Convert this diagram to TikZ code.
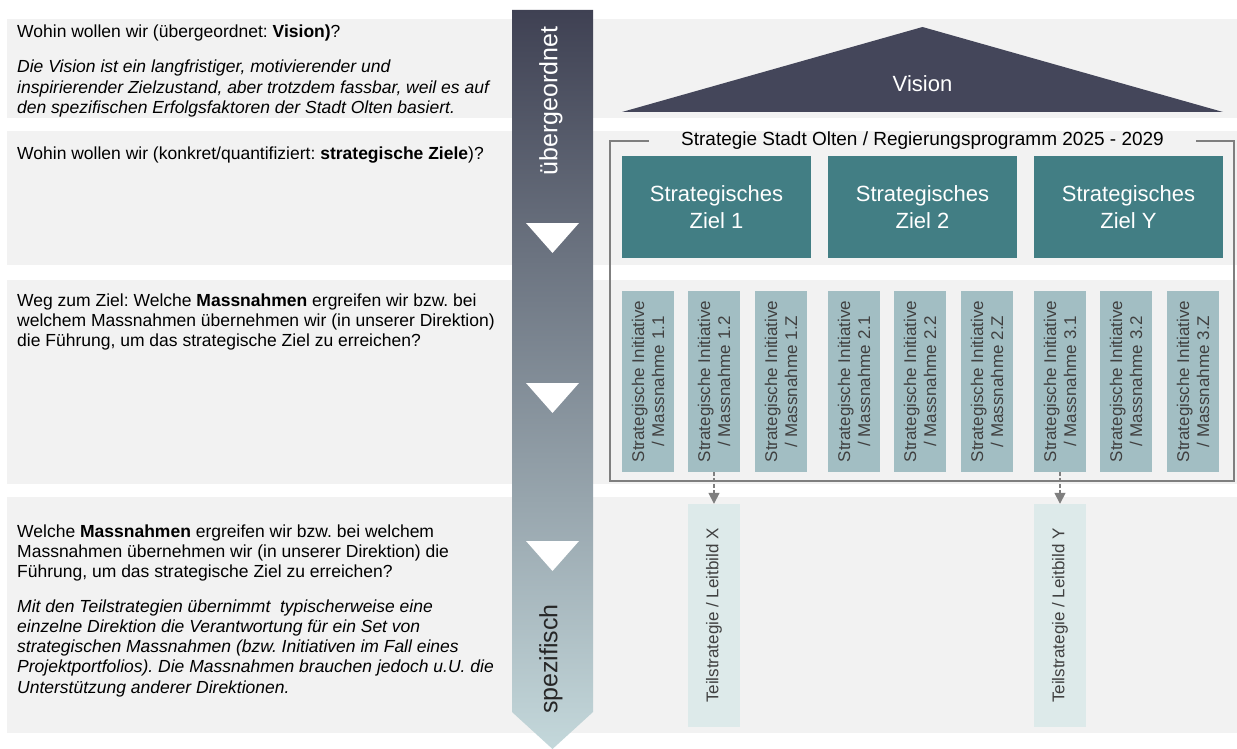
\documentclass[tikz,border=0pt]{standalone}
\usepackage{fontspec}
\setmainfont{Liberation Sans}
\usetikzlibrary{arrows.meta}

\definecolor{bandgray}{HTML}{F2F2F2}
\definecolor{visionblue}{HTML}{44465A}
\definecolor{zielteal}{HTML}{427E84}
\definecolor{initblue}{HTML}{A2BEC3}
\definecolor{teilblue}{HTML}{DDEAEA}
\definecolor{framegray}{HTML}{7F7F7F}
\definecolor{arrowtop}{HTML}{3F4153}
\definecolor{arrowbot}{HTML}{C4D8DB}
\definecolor{textgray}{HTML}{404040}
\frenchspacing

\begin{document}
\begin{tikzpicture}[x=1pt,y=-1pt,
  lefttext/.style={anchor=base west,inner sep=0pt,align=left,font=\fontsize{17.5}{20.3}\selectfont},
  leftnote/.style={lefttext,font=\fontsize{17.5}{20.3}\selectfont\itshape},
  zielbox/.style={fill=zielteal,text=white,align=center,minimum width=189pt,minimum height=102pt,inner sep=0pt,font=\fontsize{22}{26.5}\selectfont},
  initbox/.style={fill=initblue,text=textgray,align=center,rotate=90,minimum width=181pt,minimum height=52pt,inner sep=0pt,font=\fontsize{17}{20}\selectfont},
  teilbox/.style={fill=teilblue,text=textgray,rotate=90,minimum width=223pt,minimum height=52pt,inner sep=0pt,font=\fontsize{17}{20}\selectfont},
  frameline/.style={draw=framegray,line width=1.5pt},
  linkarrow/.style={draw=framegray,line width=1.5pt,dash pattern=on 4pt off 2pt,-{Triangle[length=11pt,width=11pt]}}]
\useasboundingbox (0,0) rectangle (1237,749);

% bands
\fill[bandgray] (7,19) rectangle (1237,118);
\fill[bandgray] (7,131) rectangle (1237,265);
\fill[bandgray] (7,280) rectangle (1237,484);
\fill[bandgray] (7,497) rectangle (1237,733);

% big arrow
\shade[top color=arrowtop,bottom color=arrowbot] (512,10) -- (593,10) -- (593,712) -- (552.5,749) -- (512,712) -- cycle;
\foreach \ty in {223,383,541}
  \fill[white] (526,\ty) -- (579,\ty) -- (552.5,\ty+30) -- cycle;
\node (oben) [rotate=90,text=white,font=\fontsize{25}{25}\selectfont] at (551,101) {übergeordnet};
\node (unten) [rotate=90,text=black!85,font=\fontsize{25}{25}\selectfont] at (551,659) {spezifisch};

% vision
\fill[visionblue] (622,112) -- (922.5,27) -- (1223,112) -- cycle;
\node (vision) [text=white,font=\fontsize{22}{22}\selectfont] at (922.5,84) {Vision};

% strategie
\node (titel) [inner xsep=32pt,font=\fontsize{19}{19}\selectfont] at (922.5,141) {Strategie Stadt Olten / Regierungsprogramm 2025 - 2029};
\draw[frameline] (titel.west) -| (610,481) -| (1234,141) -- (titel.east);

\node (z1) [zielbox] at (716.5,207) {Strategisches\\Ziel 1};
\node (z2) [zielbox] at (922.5,207) {Strategisches\\Ziel 2};
\node (zY) [zielbox] at (1128.5,207) {Strategisches\\Ziel Y};

\foreach \g/\gx in {1/622,2/828,3/1034}
  \foreach \k/\dx in {1/0,2/66,Z/133}
    \node (m\g\k) [initbox] at (\gx+\dx+26,381.5) {Strategische Initiative\\/ Massnahme \g.\k};

\node (tx) [teilbox] at (714,615.5) {Teilstrategie / Leitbild X};
\node (ty) [teilbox] at (1060,615.5) {Teilstrategie / Leitbild Y};
\draw[linkarrow] (m12) -- (tx);
\draw[linkarrow] (m31) -- (ty);

% left column (base = last line)
\node (q1) [lefttext] at (17,38) {Wohin wollen wir (übergeordnet: \textbf{Vision)}?};
\node (e1) [leftnote] at (17,113.6) {Die Vision ist ein langfristiger, motivierender und\\inspirierender Zielzustand, aber trotzdem fassbar, weil es auf\\den spezifischen Erfolgsfaktoren der Stadt Olten basiert.};
\node (q2) [lefttext] at (17,160) {Wohin wollen wir (konkret/quantifiziert: \textbf{strategische Ziele})?};
\node (q3) [lefttext] at (17,346.6) {Weg zum Ziel: Welche \textbf{Massnahmen} ergreifen wir bzw. bei\\welchem Massnahmen übernehmen wir (in unserer Direktion)\\die Führung, um das strategische Ziel zu erreichen?};
\node (q4) [lefttext] at (17,577.6) {Welche \textbf{Massnahmen} ergreifen wir bzw. bei welchem\\Massnahmen übernehmen wir (in unserer Direktion) die\\Führung, um das strategische Ziel zu erreichen?};
\node (e4) [leftnote] at (17,693.2) {Mit den Teilstrategien übernimmt\ \ typischerweise eine\\einzelne Direktion die Verantwortung für ein Set von\\strategischen Massnahmen (bzw. Initiativen im Fall eines\\Projektportfolios). Die Massnahmen brauchen jedoch u.U. die\\Unterstützung anderer Direktionen.};
\end{tikzpicture}
\end{document}
